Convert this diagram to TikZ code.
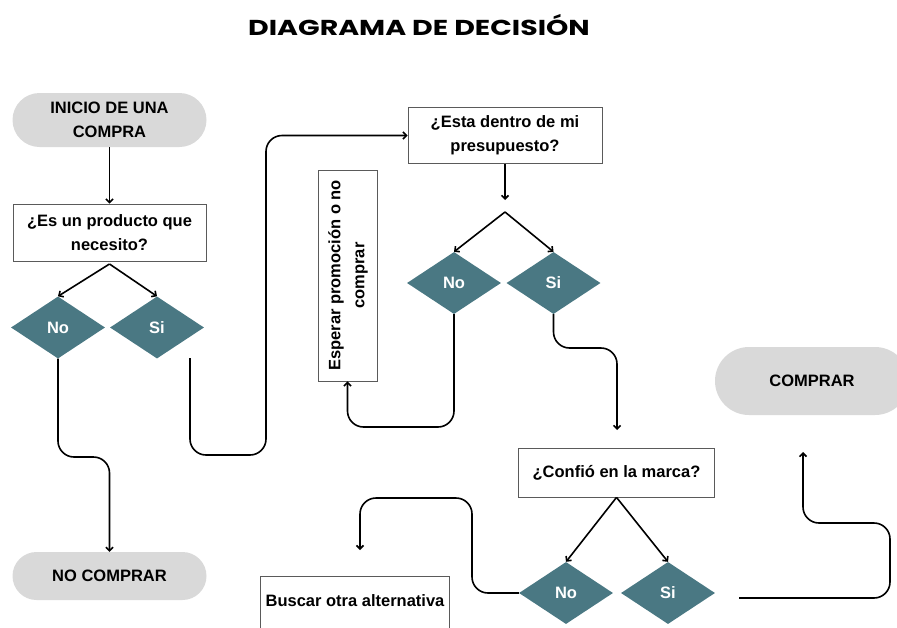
\documentclass[tikz,border=0pt]{standalone}
\usepackage{fontspec}
\setmainfont{Liberation Sans}
\newfontfamily\titlefont{Poppins}
\usetikzlibrary{shapes.geometric,arrows.meta,calc}
\definecolor{pillgray}{HTML}{D9D9D9}
\definecolor{diateal}{HTML}{4A7883}
\definecolor{boxline}{HTML}{5A5A5A}
\begin{document}
\begin{tikzpicture}[x=1pt,y=-1pt,
  font=\fontsize{16.5}{24}\selectfont\bfseries,
  pill/.style={fill=pillgray, draw=none, align=center, inner sep=0pt},
  qbox/.style={draw=boxline, line width=0.8pt, align=center, inner sep=0pt},
  dia/.style={diamond, fill=diateal, text=white, minimum width=94pt, minimum height=62pt, inner sep=0pt},
  conn/.style={draw=black, line width=1.6pt, -{Straight Barb[length=3.5pt,width=7pt]}, rounded corners=16pt}]
\useasboundingbox (0,0) rectangle (897,627);
\clip (0,0) rectangle (897,627);
\node[font=\titlefont\bfseries\fontsize{20}{24}\selectfont] (title) at (419,25) {\scalebox{1.42}[1.08]{DIAGRAMA DE DECISIÓN}};
\node[pill, minimum width=194pt, minimum height=54pt, rounded corners=27pt] (inicio) at (109.5,120) {INICIO DE UNA\\COMPRA};
\node[qbox, minimum width=193pt, minimum height=57pt] (q1) at (109.5,232.5) {¿Es un producto que\\necesito?};
\node[dia] (no1) at (58,327.5) {No};
\node[dia] (si1) at (157,327.5) {Si};
\node[pill, minimum width=194pt, minimum height=48pt, rounded corners=24pt] (nocomprar) at (109.5,576) {NO COMPRAR};
\node[qbox, minimum width=194pt, minimum height=56pt] (q2) at (505,135.5) {¿Esta dentro de mi\\presupuesto?};
\node[dia] (no2) at (454,283) {No};
\node[dia] (si2) at (553.5,283) {Si};
\node[qbox, minimum width=59pt, minimum height=211pt] (esperar) at (347.5,275.5) {\rotatebox{90}{\begin{tabular}{@{}c@{}}Esperar promoción o no\\comprar\end{tabular}}};
\node[qbox, minimum width=196pt, minimum height=49pt] (q3) at (616.5,472.5) {¿Confió en la marca?};
\node[dia] (no3) at (566,593) {No};
\node[dia] (si3) at (668,593) {Si};
\node[qbox, minimum width=189pt, minimum height=64pt, text height=12pt, text depth=16pt, anchor=north] (buscar) at (355,576) {Buscar otra alternativa};
\node[pill, minimum width=194pt, minimum height=68pt, rounded corners=34pt] (comprar) at (812,381) {COMPRAR};
% connectors
\draw[conn] (inicio) -- (q1);
\coordinate (a1) at (109.5,264);
\draw[conn] (a1) -- (no1.north);
\draw[conn] (a1) -- (si1.north);
\draw[conn] (no1.south) -- (58,457) -- (109.5,457) -- (nocomprar.north);
\coordinate (s1) at (190,358);
\draw[conn] (s1) -- (190,455) -- (266,455) -- (266,135.5) -- (q2.west);
\coordinate (b2) at (505,200);
\draw[conn] (q2.south) -- (b2);
\coordinate (a2) at (505,212);
\draw[conn] (a2) -- (no2.north);
\draw[conn] (a2) -- (si2.north);
\draw[conn] (no2.south) -- (454,427) -- (347.5,427) -- (esperar.south);
\coordinate (e2) at (617,430);
\draw[conn] (si2.south) -- (553.5,348) -- (617,348) -- (e2);
\draw[conn] (q3.south) -- (no3.north);
\draw[conn] (q3.south) -- (si3.north);
\coordinate (e3) at (360,550);
\draw[conn] (no3.west) -- (472,593) -- (472,498) -- (360,498) -- (e3);
\coordinate (s3) at (739,598);
\coordinate (e4) at (803,452);
\draw[conn] (s3) -- (890,598) -- (890,523) -- (803,523) -- (e4);
\end{tikzpicture}
\end{document}
